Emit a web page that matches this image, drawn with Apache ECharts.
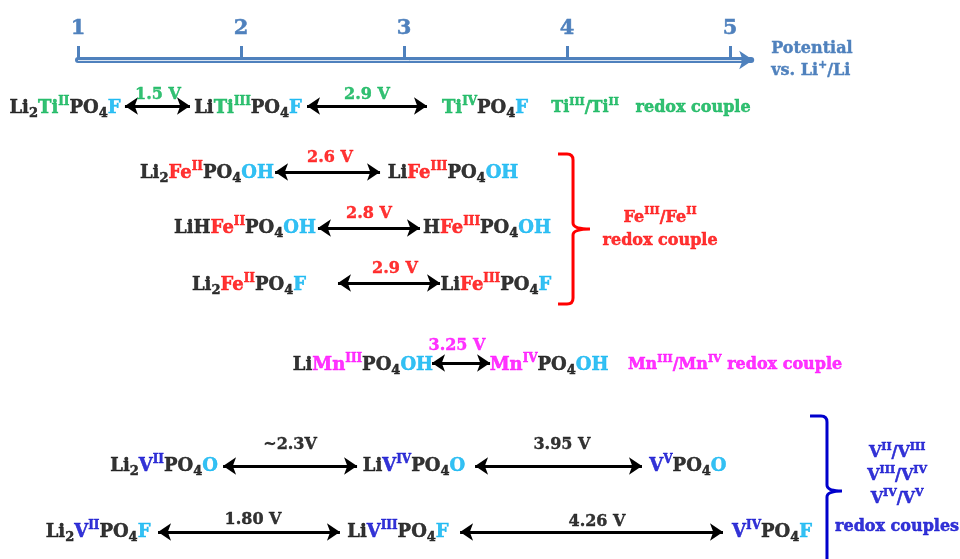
<!DOCTYPE html>
<html>
<head>
<meta charset="utf-8">
<script src="https://cdn.jsdelivr.net/npm/echarts@6/dist/echarts.min.js"></script>
<style>html,body{margin:0;padding:0;background:#fff}#c{width:960px;height:559px}</style>
</head>
<body>
<div id="c"></div>
<script>
// ---- data (x in potential units vs Li+/Li, y = row position downward) ----
const potentialTicks = [1, 2, 3, 4, 5];
const axisName = 'Potential\nvs. Li{sp|+}/Li';

const speciesLabels = [
  '{k|Li}{k_b|2}{g|Ti}{g_t|II}{k|PO}{k_b|4}{c|F}',
  '{k|Li}{g|Ti}{g_t|III}{k|PO}{k_b|4}{c|F}',
  '{g|Ti}{g_t|IV}{k|PO}{k_b|4}{c|F}',
  '{k|Li}{k_b|2}{r|Fe}{r_t|II}{k|PO}{k_b|4}{c|OH}',
  '{k|Li}{r|Fe}{r_t|III}{k|PO}{k_b|4}{c|OH}',
  '{k|LiH}{r|Fe}{r_t|II}{k|PO}{k_b|4}{c|OH}',
  '{k|H}{r|Fe}{r_t|III}{k|PO}{k_b|4}{c|OH}',
  '{k|Li}{k_b|2}{r|Fe}{r_t|II}{k|PO}{k_b|4}{c|F}',
  '{k|Li}{r|Fe}{r_t|III}{k|PO}{k_b|4}{c|F}',
  '{k|Li}{m|Mn}{m_t|III}{k|PO}{k_b|4}{c|OH}',
  '{m|Mn}{m_t|IV}{k|PO}{k_b|4}{c|OH}',
  '{k|Li}{k_b|2}{b|V}{b_t|II}{k|PO}{k_b|4}{c|O}',
  '{k|Li}{b|V}{b_t|IV}{k|PO}{k_b|4}{c|O}',
  '{b|V}{b_t|V}{k|PO}{k_b|4}{c|O}',
  '{k|Li}{k_b|2}{b|V}{b_t|II}{k|PO}{k_b|4}{c|F}',
  '{k|Li}{b|V}{b_t|III}{k|PO}{k_b|4}{c|F}',
  '{b|V}{b_t|IV}{k|PO}{k_b|4}{c|F}'
];
const speciesX = [0.92, 2.043, 3.497, 1.791, 3.301, 2.025, 3.509, 2.049, 3.564, 2.748, 3.89, 1.528, 3.061, 4.742, 1.123, 2.963, 5.258];
const speciesY = [48, 48, 48, 113, 113, 168, 168, 225, 225, 305, 305, 406, 406, 406, 472, 472, 472];

const arrowFrom = [1.288, 2.405, 2.209, 2.472, 2.595, 3.172, 1.89, 3.436, 1.491, 3.344];
const arrowTo   = [1.687, 3.141, 2.853, 3.098, 3.221, 3.528, 2.712, 4.46, 2.607, 4.957];
const arrowY    = [46, 46, 112, 168, 223, 303, 406, 406, 472, 472];

const voltageText  = ['1.5 V', '2.9 V', '2.6 V', '2.8 V', '2.9 V', '3.25 V', '~2.3V', '3.95 V', '1.80 V', '4.26 V'];
const voltageGroup = ['Ti', 'Ti', 'Fe', 'Fe', 'Fe', 'Mn', 'V', 'V', 'V', 'V'];
const voltageX = [1.491, 2.773, 2.546, 2.785, 2.945, 3.325, 2.301, 3.969, 2.074, 4.184];
const voltageY = [35, 35, 98, 154, 209, 286, 385, 385, 460, 462];

const coupleLabels = [
  '{g|Ti}{g_t|III}{g|/Ti}{g_t|II}{g|   redox couple}',
  '{r|Fe}{r_t|III}{r|/Fe}{r_t|II}\n{r|redox couple}',
  '{m|Mn}{m_t|III}{m|/Mn}{m_t|IV}{m| redox couple}',
  '{b|V}{b_t|II}{b|/V}{b_t|III}\n{b|V}{b_t|III}{b|/V}{b_t|IV}\n{b|V}{b_t|IV}{b|/V}{b_t|V}\n{b_l|redox couples}'
];
const coupleX = [4.515, 4.571, 5.031, 6.025];
const coupleY = [48, 169, 305, 432.5];

// braces: [leftEnd, spine, tip, top, middle, bottom]
const braceRed  = [3.945, 4.037, 4.141, 94, 169, 244];
const braceBlue = [5.491, 5.595, 5.687, 356, 431, 520];

// ---- styles ----
const FONT = 'DejaVu Serif';
const COLORS = {k: '#000000', g: '#00B050', r: '#FF0000', c: '#00B0F0', m: '#FF00FF', b: '#0000CC'};
const AXIS_BLUE = '#4F81BD';
const GROUP_COLOR = {Ti: '#00B050', Fe: '#FF0000', Mn: '#FF00FF', V: '#000000'};
const HIDDEN = {color: 'rgba(0,0,0,0)'};

function makeRich(size, lh, subSize, supSize, supLH) {
  const rich = {};
  Object.keys(COLORS).forEach(function (key) {
    const base = {color: COLORS[key], fontFamily: FONT, fontWeight: 'bold',
      textBorderColor: COLORS[key], textBorderWidth: 0.5};
    rich[key] = Object.assign({}, base, {fontSize: size, lineHeight: lh});
    rich[key + '_l'] = Object.assign({}, base, {fontSize: size, lineHeight: lh + 10});
    rich[key + '_b'] = Object.assign({}, base, {fontSize: subSize, lineHeight: 12, verticalAlign: 'bottom'});
    rich[key + '_t'] = Object.assign({}, base, {fontSize: supSize, lineHeight: supLH, verticalAlign: 'top'});
  });
  return rich;
}

const chart = echarts.init(document.getElementById('c'), null, {renderer: 'canvas'});

const X_MAX = 5.13;
const gridLeft = 78, unitPx = 163;

const option = {
  animation: false,
  backgroundColor: '#ffffff',
  grid: {left: gridLeft, right: 960 - gridLeft - (X_MAX - 1) * unitPx, top: 60, height: 480, outerBoundsMode: 'none', containLabel: false},
  xAxis: {
    type: 'value', position: 'top', min: 1, max: X_MAX,
    splitLine: {show: false},
    axisLine: {show: true, symbol: ['none', 'arrow'], symbolSize: [14, 14], symbolOffset: [0, 2],
      lineStyle: {color: AXIS_BLUE, width: 6}},
    axisTick: {show: true, customValues: potentialTicks, length: 14, lineStyle: {color: AXIS_BLUE, width: 3}},
    axisLabel: {show: true, customValues: potentialTicks, margin: 21, color: AXIS_BLUE,
      fontFamily: FONT, fontWeight: 'bold', fontSize: 21, textBorderColor: AXIS_BLUE, textBorderWidth: 0.5},
    name: axisName, nameLocation: 'end', nameGap: 20,
    nameTextStyle: {color: AXIS_BLUE, fontFamily: FONT, fontWeight: 'bold', fontSize: 16, lineHeight: 22, align: 'left',
      textBorderColor: AXIS_BLUE, textBorderWidth: 0.4,
      rich: {sp: {color: AXIS_BLUE, fontFamily: FONT, fontWeight: 'bold', fontSize: 11, lineHeight: 18, verticalAlign: 'top'}}}
  },
  yAxis: {type: 'value', min: 0, max: 480, inverse: true, show: false},
  series: [
    { // light centre stripe of the double axis line
      type: 'lines', coordinateSystem: 'cartesian2d', silent: true, z: 1,
      data: [{coords: [[1, 0], [X_MAX - 0.06, 0]]}],
      lineStyle: {color: '#dce6f2', width: 1, opacity: 1}
    },
    {
      type: 'lines', coordinateSystem: 'cartesian2d', silent: true,
      symbol: ['arrow', 'arrow'], symbolSize: 13,
      lineStyle: {color: '#000000', width: 3, opacity: 1},
      data: arrowFrom.map(function (f, i) { return {coords: [[f, arrowY[i]], [arrowTo[i], arrowY[i]]]}; })
    },
    {
      type: 'scatter', silent: true, clip: false, symbolSize: 1, itemStyle: HIDDEN,
      data: speciesX.map(function (x, i) { return [x, speciesY[i]]; }),
      label: {show: true, position: 'inside', formatter: function (p) { return speciesLabels[p.dataIndex]; },
        rich: makeRich(18, 24, 13, 12, 22)}
    },
    {
      type: 'scatter', silent: true, clip: false, symbolSize: 1, itemStyle: HIDDEN,
      data: voltageX.map(function (x, i) {
        const c = GROUP_COLOR[voltageGroup[i]];
        return {value: [x, voltageY[i]], label: {color: c, textBorderColor: c}};
      }),
      label: {show: true, position: 'inside', formatter: function (p) { return voltageText[p.dataIndex]; },
        fontFamily: FONT, fontWeight: 'bold', fontSize: 16, textBorderWidth: 0.4}
    },
    {
      type: 'scatter', silent: true, clip: false, symbolSize: 1, itemStyle: HIDDEN,
      data: coupleX.map(function (x, i) { return [x, coupleY[i]]; }),
      label: {show: true, position: 'inside', align: 'center', formatter: function (p) { return coupleLabels[p.dataIndex]; },
        rich: makeRich(16, 23, 12, 11, 19)}
    },
    {
      type: 'custom', silent: true, clip: false,
      data: [braceRed, braceBlue],
      renderItem: function (params, api) {
        const colors = ['#FF0000', '#0000CC'];
        const pL = api.coord([api.value(0), api.value(3)]);
        const xL = pL[0], yT = pL[1];
        const xM = api.coord([api.value(1), 0])[0];
        const xT = api.coord([api.value(2), 0])[0];
        const yMid = api.coord([0, api.value(4)])[1];
        const yB = api.coord([0, api.value(5)])[1];
        const r = 6;
        const d = 'M' + xL + ',' + yT + ' L' + (xM - r) + ',' + yT +
          ' Q' + xM + ',' + yT + ' ' + xM + ',' + (yT + r) +
          ' L' + xM + ',' + (yMid - r) +
          ' Q' + xM + ',' + yMid + ' ' + xT + ',' + yMid +
          ' Q' + xM + ',' + yMid + ' ' + xM + ',' + (yMid + r) +
          ' L' + xM + ',' + (yB - r) +
          ' Q' + xM + ',' + yB + ' ' + (xM - r) + ',' + yB +
          ' L' + xL + ',' + yB;
        return {type: 'path', shape: {pathData: d},
          style: {fill: 'none', stroke: colors[params.dataIndex], lineWidth: 3}};
      }
    }
  ]
};
chart.setOption(option);
</script>
</body>
</html>
